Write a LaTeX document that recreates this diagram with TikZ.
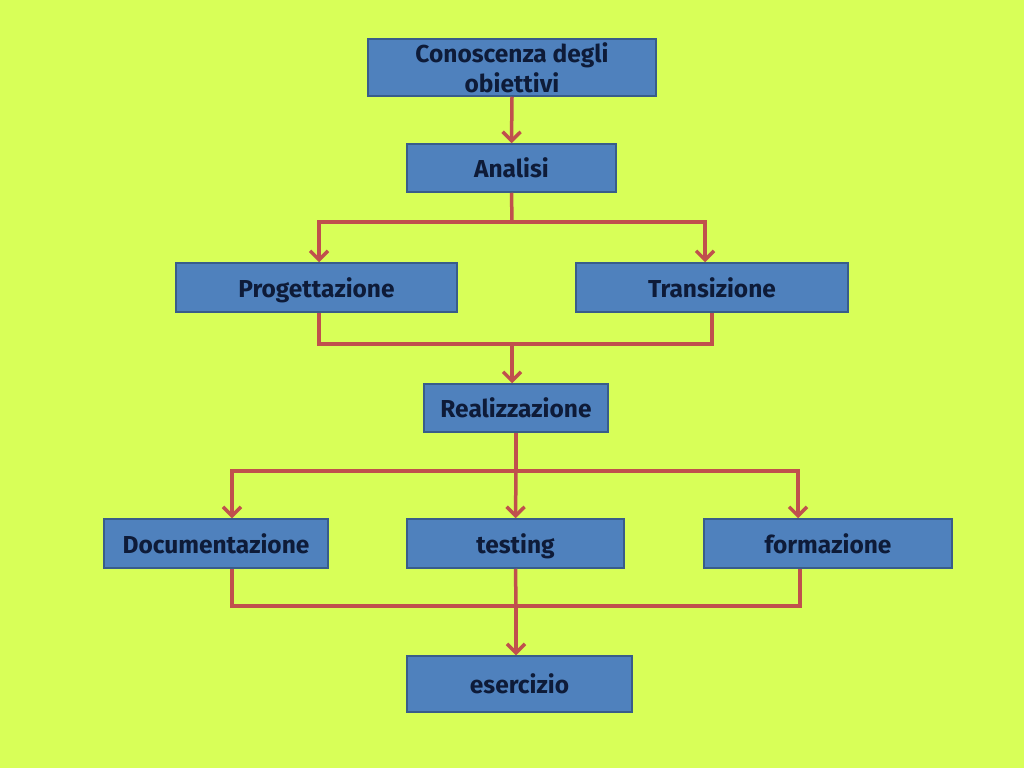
\documentclass[tikz,border=0pt]{standalone}
\usepackage{fontspec}
\setmainfont{Fira Sans}
\usetikzlibrary{arrows.meta}
\definecolor{bg}{HTML}{D8FF58}
\definecolor{boxfill}{HTML}{4F81BD}
\definecolor{boxline}{HTML}{385D8A}
\definecolor{link}{HTML}{C0504D}
\definecolor{txt}{HTML}{0E1B38}
\tikzset{
  box/.style={draw=boxline, line width=1.5pt, fill=boxfill, rectangle, inner sep=0pt, anchor=center,
    font=\fontsize{24.5}{30}\selectfont\bfseries, text=txt, align=center},
  one/.style={text height=20pt, text depth=1pt},
  link/.style={draw=link, line width=3.5pt},
  arr/.style={link, -{Straight Barb[length=9pt,width=18pt,line width=3.5pt]}}
}
\begin{document}
\begin{tikzpicture}[x=1pt,y=-1pt]
\fill[bg] (0,0) rectangle (1024,768);
\useasboundingbox (0,0) rectangle (1024,768);
\node[box, minimum width=288pt, minimum height=57pt] (con) at (512,67.5) {Conoscenza degli\\obiettivi};
\node[box, one, minimum width=209pt, minimum height=48pt] (ana) at (511.5,168) {Analisi};
\node[box, one, minimum width=281pt, minimum height=49pt] (pro) at (316.5,287.5) {Progettazione};
\node[box, one, minimum width=272pt, minimum height=49pt] (tra) at (712,287.5) {Transizione};
\node[box, one, minimum width=184pt, minimum height=48pt] (rea) at (516,408) {Realizzazione};
\node[box, one, minimum width=224pt, minimum height=49pt] (doc) at (216,543.5) {Documentazione};
\node[box, one, minimum width=217pt, minimum height=49pt] (tes) at (515.5,543.5) {testing};
\node[box, one, minimum width=248pt, minimum height=49pt] (for) at (828,543.5) {formazione};
\node[box, one, minimum width=225pt, minimum height=56pt] (ese) at (519.5,684) {esercizio};
\coordinate (j1) at (512,222);
\coordinate (j2) at (512,344);
\coordinate (j3) at (516,471);
\coordinate (j4) at (516,606);
% connectors
\draw[arr] (con.south) -- (ana.north);
\draw[link] (ana.south) -- (j1);
\draw[arr] (j1) -| ([xshift=2.5pt]pro.north);
\draw[arr] (j1) -| ([xshift=-7pt]tra.north);
\draw[link] ([xshift=2.5pt]pro.south) |- (j2);
\draw[link] (tra.south) |- (j2);
\draw[arr] (j2) -- (j2 |- rea.north);
\draw[link] (rea.south) -- (j3);
\draw[arr] (j3) -| ([xshift=16pt]doc.north);
\draw[arr] (j3) -- (tes.north);
\draw[arr] (j3) -| ([xshift=-30pt]for.north);
\draw[link] ([xshift=16pt]doc.south) |- (j4);
\draw[link] ([xshift=-28pt]for.south) |- (j4);
\draw[link] (tes.south) -- (j4);
\draw[arr] (j4) -- (j4 |- ese.north);
\end{tikzpicture}
\end{document}
